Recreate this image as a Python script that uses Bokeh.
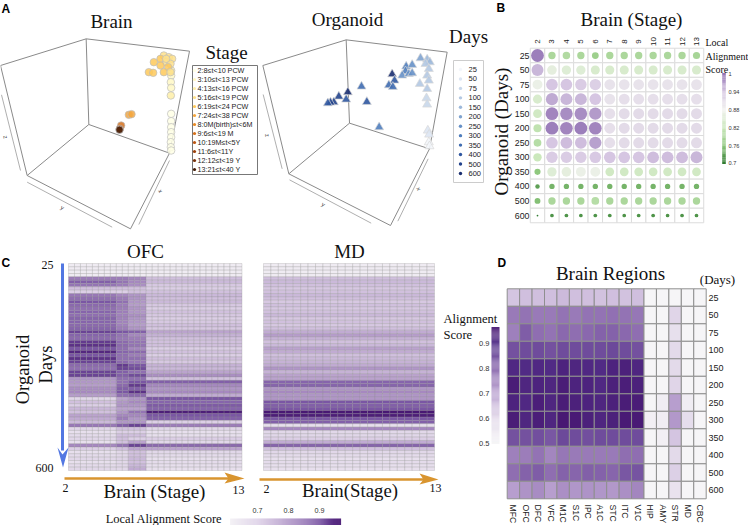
import numpy as np
from bokeh.embed import file_html
from bokeh.resources import INLINE
from bokeh.plotting import figure
from bokeh.models import ColumnDataSource, LinearColorMapper, Range1d
from bokeh.core.properties import value

W, H = 748, 525

# ---- Panel A data (projected view coordinates)
stage_labels = ["2:8≤t<10 PCW", "3:10≤t<13 PCW", "4:13≤t<16 PCW", "5:16≤t<19 PCW", "6:19≤t<24 PCW",
                "7:24≤t<38 PCW", "8:0M(birth)≤t<6M", "9:6≤t<19 M", "10:19M≤t<5Y", "11:6≤t<11Y",
                "12:12≤t<19 Y", "13:21≤t<40 Y"]
stage_colors = ["#FFFFE5", "#FFF8C4", "#FEEEA8", "#FEE08A", "#FEC95A", "#F5A63C", "#E98A22", "#D5701A",
                "#BC5510", "#9C400A", "#773008", "#3F1A05"]
brain_x = [512, 512, 512, 512, 512, 511, 511, 512, 512, 511, 512, 511, 512, 490, 505, 515, 480, 497, 510, 460, 480, 503,
           445, 458, 490, 510, 497, 385, 393, 362, 358, 357]
brain_y = [340, 362, 380, 395, 410, 425, 440, 450, 225, 245, 262, 285, 210, 165, 170, 175, 175, 185, 190, 185, 195, 200,
           215, 217, 215, 215, 175, 343, 341, 375, 385, 388]
brain_stage = [0, 0, 0, 0, 0, 0, 0, 0, 1, 1, 1, 2, 2, 3, 3, 3, 4, 3, 3, 4, 4, 4,
               4, 4, 4, 3, 3, 5, 5, 7, 8, 11]

day_labels = ["25", "50", "75", "100", "150", "200", "250", "300", "350", "400", "500", "600"]
day_colors = ["#F3F6FB", "#DDE6F3", "#C8D7EA", "#B3C8E2", "#9CB8DA", "#7FA3CF", "#6690C6", "#4F7DBC",
              "#3F6CB0", "#2F56A0", "#22428C", "#1A2E70"]
org_x = [455, 322, 295, 280, 270, 262, 363, 317, 379, 462, 445, 457, 416, 497, 515, 495, 485, 505, 515, 540,
         560, 568, 555, 565, 560, 538, 565, 560, 558, 560, 562, 566, 565, 567]
org_y = [221, 275, 288, 305, 306, 308, 258, 297, 304, 240, 254, 259, 380, 198, 193, 212, 225, 220, 218, 173,
         177, 185, 190, 205, 225, 250, 240, 265, 293, 312, 390, 402, 425, 437]
org_day = [11, 11, 10, 10, 10, 9, 8, 9, 9, 9, 8, 8, 7, 7, 6, 7, 6, 6, 6, 5,
           4, 4, 3, 3, 3, 3, 3, 3, 2, 2, 1, 1, 0, 0]

# ---- Panel B data
stage_ticks = ["2", "3", "4", "5", "6", "7", "8", "9", "10", "11", "12", "13"]
local_scores = [
    [.99, .79, .795, .79, .775, .79, .79, .79, .79, .79, .79, .785],
    [.95, .86, .85, .85, .84, .84, .84, .84, .84, .84, .84, .84],
    [.87, .94, .94, .93, .925, .90, .90, .90, .90, .90, .90, .90],
    [.84, .96, .95, .95, .94, .90, .905, .905, .905, .905, .905, .905],
    [.83, .985, .98, .98, .97, .905, .91, .91, .91, .91, .91, .91],
    [.81, .99, .985, .99, .985, .905, .91, .91, .91, .91, .91, .91],
    [.80, .94, .945, .945, .965, .905, .91, .91, .91, .91, .91, .91],
    [.82, .93, .93, .93, .935, .94, .94, .94, .945, .945, .945, .95],
    [.76, .85, .86, .87, .87, .83, .83, .83, .83, .83, .83, .83],
    [.73, .745, .745, .745, .745, .745, .745, .745, .745, .745, .745, .745],
    [.755, .79, .79, .79, .80, .79, .79, .79, .79, .79, .79, .79],
    [.703, .72, .72, .72, .72, .72, .72, .72, .72, .72, .72, .72],
]

# ---- Panel C data: one value per organoid sample (top to bottom)
ofc_left = [.63, .63, .63, .63, .82, .88, .84, .72, .70, .83, .85, .90, .86, .85, .87, .85, .87, .87, .86, .87,
            .92, .87, .86, .93, .94, .90, .95, .90, .94, .92, .86, .85, .92, .92, .78, .78, .77, .79, .80, .77,
            .68, .72, .70, .73, .72, .76, .75, .73, .83, .68, .66, .67, .68, .66, .80, .70, .66, .67, .68, .66, .67, .68]
ofc_mid = [.63, .63, .63, .63, .82, .84, .82, .72, .70, .80, .82, .85, .82, .82, .82, .81, .81, .81, .81, .82,
           .90, .84, .83, .86, .86, .85, .87, .85, .85, .86, .93, .92, .88, .88, .85, .85, .86, .88, .90, .85,
           .76, .78, .78, .76, .78, .80, .82, .78, .88, .72, .70, .72, .72, .72, .84, .72, .68, .68, .69, .68, .68, .68]
ofc_band = [.63, .63, .63, .63, .80, .80, .79, .72, .72, .78, .78, .78, .77, .78, .78, .79, .78, .78, .77, .78,
            .88, .80, .82, .84, .84, .80, .86, .82, .85, .83, .90, .91, .85, .91, .85, .90, .93, .88, .94, .86,
            .78, .80, .78, .76, .84, .80, .78, .78, .92, .72, .70, .72, .70, .76, .92, .76, .72, .72, .73, .72, .73, .75]
ofc_right = [.63, .63, .63, .63, .72, .73, .71, .70, .72, .73, .72, .73, .71, .70, .72, .71, .70, .71, .72, .71,
             .76, .74, .72, .72, .72, .70, .72, .70, .72, .71, .74, .73, .76, .79, .72, .88, .80, .78, .80, .75,
             .90, .87, .89, .87, .96, .90, .88, .70, .82, .68, .66, .66, .70, .68, .86, .76, .68, .67, .66, .67, .66, .66]
ofc_zones = [ofc_left] * 8 + [ofc_mid] * 2 + [ofc_band] * 3 + [ofc_right] * 16
md_scores = [.63, .63, .63, .63, .72, .73, .72, .71, .72, .73, .72, .71, .72, .71, .72, .73, .71, .72, .71, .72,
             .75, .77, .74, .72, .73, .76, .75, .72, .73, .74, .75, .78, .74, .76, .76, .87, .87, .78, .80, .78,
             .78, .90, .88, .90, .97, .96, .90, .88, .66, .80, .68, .68, .70, .75, .87, .72, .68, .67, .66, .67, .66, .66]
md_columns = 23

# ---- Panel D data
regions = ["MFC", "OFC", "DFC", "VFC", "M1C", "S1C", "IPC", "A1C", "STC", "ITC", "V1C", "HIP", "AMY", "STR", "MD", "CBC"]
region_scores = [
    [.64, .65, .65, .65, .66, .65, .65, .645, .65, .645, .65, .5, .5, .5, .5, .5],
    [.77, .78, .77, .77, .78, .77, .78, .78, .785, .78, .775, .5, .5, .61, .5, .5],
    [.76, .82, .79, .78, .80, .79, .80, .81, .81, .80, .79, .5, .5, .58, .5, .5],
    [.84, .85, .85, .84, .85, .85, .85, .85, .855, .85, .84, .5, .5, .60, .5, .5],
    [.915, .91, .915, .91, .925, .92, .915, .91, .925, .93, .92, .5, .5, .60, .5, .5],
    [.94, .92, .925, .92, .94, .925, .925, .915, .93, .935, .93, .5, .5, .61, .5, .5],
    [.925, .915, .935, .92, .94, .93, .925, .92, .93, .94, .94, .5, .53, .71, .53, .5],
    [.94, .92, .935, .92, .95, .945, .93, .92, .93, .945, .945, .52, .53, .72, .59, .5],
    [.84, .84, .845, .83, .855, .85, .845, .85, .85, .85, .85, .5, .52, .64, .5, .5],
    [.76, .765, .78, .75, .775, .77, .77, .77, .77, .79, .79, .5, .5, .60, .5, .5],
    [.79, .81, .82, .79, .81, .805, .815, .81, .805, .83, .835, .5, .5, .62, .5, .5],
    [.71, .73, .74, .71, .735, .725, .73, .725, .72, .735, .75, .5, .5, .57, .5, .5],
]


def ramp(stops, n=256):
    xs = [s[0] for s in stops]
    rgb = [[int(s[1][i:i + 2], 16) for s in stops] for i in (1, 3, 5)]
    t = np.linspace(xs[0], xs[-1], n)
    chans = [np.interp(t, xs, c) for c in rgb]
    return ["#%02x%02x%02x" % (int(r), int(g), int(b)) for r, g, b in zip(*chans)]


prgn = LinearColorMapper(palette=ramp([(.7, "#2f7a2f"), (.76, "#8fc87e"), (.82, "#cbe8bc"), (.88, "#f2f2f0"),
                                       (.94, "#d6c6e2"), (1, "#9272b4")]), low=.7, high=1)
purple_c = LinearColorMapper(palette=ramp([(.613, "#f4f2f6"), (.70, "#dccfe6"), (.80, "#a688c0"),
                                           (.90, "#7a56a4"), (.968, "#481873")]), low=.613, high=.968)
purple_d = LinearColorMapper(palette=ramp([(.5, "#f6f5f7"), (.6, "#e4dbeb"), (.7, "#bda5d2"), (.8, "#8a68ae"),
                                           (.9, "#54308a"), (.95, "#481873")]), low=.5, high=.95)

p = figure(width=W, height=H, x_range=Range1d(0, W), y_range=Range1d(H, 0), output_backend="svg",
           toolbar_location=None, x_axis_location=None, y_axis_location=None, min_border=0,
           outline_line_color=None, margin=(0, 0, 0, 0))
p.grid.visible = False


def xspan(name, p0, p1, d0, d1):
    s = (d1 - d0) / (p1 - p0)
    p.extra_x_ranges[name] = Range1d(d0 - p0 * s, d0 + (W - p0) * s)


def yspan(name, p0, p1, d0, d1):
    s = (d1 - d0) / (p1 - p0)
    p.extra_y_ranges[name] = Range1d(d0 + (H - p0) * s, d0 - p0 * s)


SERIF, SANS = "Liberation Serif", "Liberation Sans"


def txt(x, y, s, size, font=SERIF, align="center", angle=0, style="normal", color="#111111", **kw):
    labels = [s] if isinstance(s, str) else list(s)
    n = len(labels)
    xv = [x] * n if np.isscalar(x) else list(x)
    yv = [y] * n if np.isscalar(y) else list(y)
    p.text(x=xv, y=yv, text=labels,
           text_font=value(font), text_font_size=value(f"{size}px"), text_align=align, text_baseline="middle",
           angle=angle, text_font_style=style, text_color=color, **kw)


# ---- Panel A
xspan("a1x", 0, 250, 0, 750)
xspan("a2x", 240, 470, 0, 690)
yspan("ay", 0, 250, 0, 750)


def box3d(xn, lines, arrows):
    for (x0, y0, x1, y1) in lines:
        p.line([x0, x1], [y0, y1], x_range_name=xn, y_range_name="ay", line_color="#8a8a8a", line_width=1)
    for (x0, y0, x1, y1) in arrows:
        p.line([x0, x1], [y0, y1], x_range_name=xn, y_range_name="ay", line_color="#9a9a9a", line_width=0.8)


box3d("a1x", [(0, 195, 257, 115), (257, 115, 567, 152), (257, 115, 265, 372), (567, 152, 507, 458), (265, 372, 507, 458),
              (265, 372, 80, 525), (80, 525, 390, 685), (390, 685, 507, 458), (0, 195, 80, 525)],
      [(80, 545, 335, 680), (415, 672, 507, 480), (3, 283, 60, 510)])
box3d("a2x", [(67, 195, 317, 118), (317, 118, 620, 155), (317, 118, 327, 368), (620, 155, 567, 445), (567, 445, 327, 368),
              (327, 368, 145, 520), (145, 520, 450, 675), (450, 675, 567, 445), (67, 195, 145, 520)],
      [(147, 538, 392, 668), (472, 662, 563, 475), (68, 282, 125, 505)])
p.scatter(brain_x, brain_y, x_range_name="a1x", y_range_name="ay", size=7.5, marker="circle",
          fill_color=[stage_colors[i] for i in brain_stage], fill_alpha=.85, line_color="#bdbdbd", line_width=.7)
p.scatter(org_x, org_y, x_range_name="a2x", y_range_name="ay", size=9, marker="triangle",
          fill_color=[day_colors[i] for i in org_day], fill_alpha=.9, line_color="#d8d8d8", line_width=.7)
for xn, pts in (("a1x", [(185, 622, "y", .5), (480, 572, "x", 1.1), (15, 410, "z", 1.4)]),
                ("a2x", [(248, 612, "y", .5), (535, 565, "x", 1.1), (80, 405, "z", 1.4)])):
    for (x, y, s, a) in pts:
        p.text([x], [y], [s], x_range_name=xn, y_range_name="ay", text_font=value(SANS), text_font_size=value("6px"),
               text_align="center", text_baseline="middle", angle=-a, text_color="#333333")

txt(111, 21, "Brain", 19)
txt(226, 52, "Stage", 19)
txt(347, 19, "Organoid", 19)
txt(468, 36, "Days", 19)

p.quad(left=[192], right=[257], top=[65], bottom=[174], fill_color="white", line_color="#777777", line_width=1)
rows_a = 70 + 9.0 * np.arange(12)
p.scatter([194] * 12, rows_a, size=3.2, marker="circle", fill_color=stage_colors, line_color=None)
txt(197, rows_a, stage_labels, 7.2, SANS, "left", color="#222222")
p.quad(left=[453], right=[483], top=[60], bottom=[182], fill_color="white", line_color="#cccccc", line_width=1)
rows_d = 69 + 9.45 * np.arange(12)
p.scatter([460] * 12, rows_d, size=3.4, marker="circle", fill_color=day_colors, line_color=None)
txt(468, rows_d, day_labels, 7.5, SANS, "left", color="#222222")

# ---- Panel B
xspan("bx", 537, 696, 0, 11)
yspan("by", 55, 215, 0, 11)
bi, bj = np.meshgrid(np.arange(12), np.arange(12))
scores = np.array(local_scores)
src_b = ColumnDataSource(dict(x=bi.ravel(), y=bj.ravel(), v=scores.ravel(),
                              s=12.5 * np.sqrt((scores.ravel() - .7) / .3) + .5))
p.rect("x", "y", 1, 1, source=src_b, x_range_name="bx", y_range_name="by", fill_color="white",
       line_color="#dcdcdc", line_width=1)
p.scatter("x", "y", size="s", marker="circle", source=src_b, x_range_name="bx", y_range_name="by",
          fill_color={"field": "v", "transform": prgn}, line_color=None)
p.text(list(range(12)), [41] * 12, stage_ticks, x_range_name="bx", text_font=value(SANS), text_font_size=value("8px"),
       text_align="center", text_baseline="middle", angle=np.pi / 2, text_color="#222222")
p.text([529] * 12, list(range(12)), day_labels, y_range_name="by", text_font=value(SANS), text_font_size=value("8.8px"),
       text_align="right", text_baseline="middle", text_color="#222222")
txt(631, 19, "Brain (Stage)", 19)
txt(501, 131, "Organoid (Days)", 19, angle=np.pi / 2)
txt(705, 42, "Local", 10, align="left")
txt(705, 56, "Alignment", 10, align="left")
txt(705, 69, "Score", 10, align="left")

yspan("bcb", 73, 163, 1, .7)
vb = np.linspace(.7, 1, 80)
p.rect([723.5] * 80, vb, 3.6, .3 / 78, y_range_name="bcb", width_units="screen",
       fill_color=[prgn.palette[int(round((v - .7) / .3 * 255))] for v in vb], line_color=None)
txt([728] * 6, [73, 91, 109, 127, 145, 162], ["1", "0.94", "0.88", "0.82", "0.76", "0.7"], 5.6, SANS, "left", color="#333333")

# ---- Panel C
xspan("cx1", 68, 241.5, 0, 29)
xspan("cx2", 263, 434, 0, md_columns)
yspan("cy", 263, 470, 0, 62)
xs, ys, vs = [], [], []
for c, zone in enumerate(ofc_zones):
    for r, v in enumerate(zone):
        xs.append(c + .5); ys.append(r + .5); vs.append(v)
p.rect("x", "y", 1, 1, source=ColumnDataSource(dict(x=xs, y=ys, v=vs)), x_range_name="cx1", y_range_name="cy",
       fill_color={"field": "v", "transform": purple_c}, line_color="#8a8a8a", line_alpha=.35, line_width=.7)
xs, ys, vs = [], [], []
for c in range(md_columns):
    for r, v in enumerate(md_scores):
        xs.append(c + .5); ys.append(r + .5); vs.append(v)
p.rect("x", "y", 1, 1, source=ColumnDataSource(dict(x=xs, y=ys, v=vs)), x_range_name="cx2", y_range_name="cy",
       fill_color={"field": "v", "transform": purple_c}, line_color="#8a8a8a", line_alpha=.35, line_width=.7)

BLUE, ORANGE = "#5277e2", "#d9952f"
p.line([62, 62], [263, 450], line_color=BLUE, line_width=3)
p.patch([57, 62, 68, 62.5], [447, 454, 447, 467], fill_color=BLUE, line_color=None)
p.line([64, 232], [478, 478], line_color=ORANGE, line_width=2.5)
p.patch([224, 244, 224, 228], [472, 478, 483, 478], fill_color=ORANGE, line_color=None)
p.line([259, 428], [479, 479], line_color=ORANGE, line_width=2.5)
p.patch([419, 438, 419, 423], [473, 479, 484, 479], fill_color=ORANGE, line_color=None)

txt(145, 251, "OFC", 19)
txt(349, 251, "MD", 19)
txt(53, 264, "25", 12, align="right")
txt(53, 467, "600", 12, align="right")
txt(22, 369, "Organoid", 18.5, angle=np.pi / 2)
txt(45, 364, "Days", 18.5, angle=np.pi / 2)
txt(65, 487, "2", 12)
txt(238, 489, "13", 12)
txt(266, 488, "2", 12)
txt(435, 487, "13", 12)
txt(154, 491, "Brain (Stage)", 19)
txt(349.5, 490, "Brain(Stage)", 18.8)
txt(163.5, 518, "Local Alignment Score", 12.5)

xspan("ccb", 257, 319, .7, .9)
vc = np.linspace(.613, .968, 110)
p.rect(vc, [521.5] * 110, .355 / 108, 7, x_range_name="ccb",
       fill_color=[purple_c.palette[int(round((v - .613) / .355 * 255))] for v in vc], line_color=None)
p.text([.7, .8, .9], [510] * 3, ["0.7", "0.8", "0.9"], x_range_name="ccb", text_font=value(SANS),
       text_font_size=value("7.2px"), text_align="center", text_baseline="middle", text_color="#333333")

# ---- Panel D
xspan("dx", 506.7, 705.7, 0, 16)
yspan("dy", 288.3, 498.3, 0, 12)
di, dj = np.meshgrid(np.arange(16), np.arange(12))
p.rect((di + .5).ravel(), (dj + .5).ravel(), 1, 1, x_range_name="dx", y_range_name="dy",
       fill_color=[purple_d.palette[int(round((v - .5) / .45 * 255))] for v in np.array(region_scores).ravel()],
       line_color="#8f8f8f", line_width=1)
p.text(np.arange(16) + .5, [504] * 16, regions, x_range_name="dx", text_font=value(SANS), text_font_size=value("8.6px"),
       text_align="left", text_baseline="middle", angle=-np.pi / 2, text_color="#222222")
p.text([708] * 12, np.arange(12) + .5, day_labels, y_range_name="dy", text_font=value(SANS), text_font_size=value("9px"),
       text_align="left", text_baseline="middle", text_color="#222222")
txt(610, 273, "Brain Regions", 19)
txt(717, 279, "(Days)", 13)
txt(443, 318, "Alignment", 12.6, align="left")
txt(443, 334, "Score", 12.6, align="left")

yspan("dcb", 343, 443, .9, .5)
vd = np.linspace(.5, .964, 125)
p.rect([495] * 125, vd, 8, .464 / 123, y_range_name="dcb", width_units="screen",
       fill_color=[purple_d.palette[min(255, int(round((v - .5) / .45 * 255)))] for v in vd], line_color=None)
p.text([489] * 5, [.9, .8, .7, .6, .5], ["0.9", "0.8", "0.7", "0.6", "0.5"], y_range_name="dcb", text_font=value(SANS),
       text_font_size=value("7.5px"), text_align="right", text_baseline="middle", text_color="#333333")

# ---- Panel letters
for x, y, s in ((1, 8, "A"), (496, 7, "B"), (1, 262, "C"), (497, 262, "D")):
    txt(x, y, s, 12, SANS, "left", style="bold", color="#000000")

open("out.html", "w").write(file_html(p, INLINE))
